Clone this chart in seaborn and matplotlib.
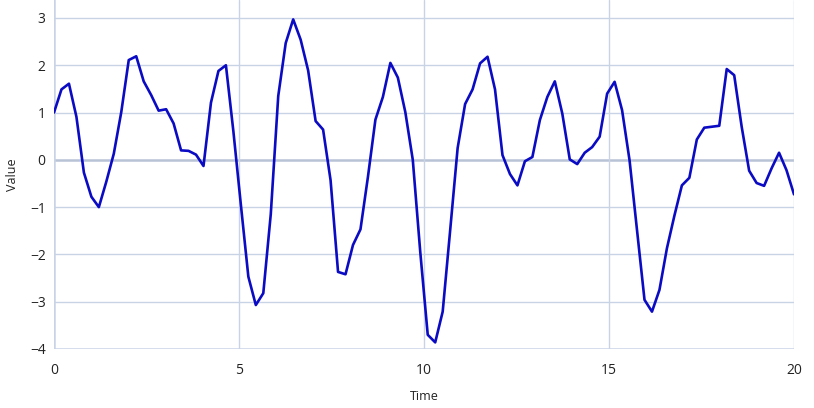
import numpy as np
import pandas as pd
import matplotlib
matplotlib.use("Agg")
import matplotlib.pyplot as plt
import seaborn as sns

time = np.linspace(0, 20, 100)
values = [
    1.00, 1.49, 1.61, 0.91, -0.27, -0.78, -1.00, -0.46, 0.13, 1.01,
    2.11, 2.19, 1.66, 1.37, 1.04, 1.07, 0.77, 0.20, 0.19, 0.11,
    -0.13, 1.21, 1.88, 2.00, 0.60, -0.95, -2.47, -3.07, -2.82, -1.15,
    1.35, 2.47, 2.97, 2.54, 1.89, 0.82, 0.64, -0.43, -2.37, -2.42,
    -1.80, -1.47, -0.36, 0.85, 1.33, 2.05, 1.74, 1.01, 0.00, -1.95,
    -3.70, -3.86, -3.21, -1.49, 0.25, 1.18, 1.49, 2.04, 2.18, 1.49,
    0.10, -0.30, -0.54, -0.03, 0.06, 0.84, 1.33, 1.66, 0.98, 0.01,
    -0.09, 0.15, 0.27, 0.49, 1.40, 1.65, 1.05, -0.01, -1.49, -2.96,
    -3.21, -2.75, -1.87, -1.18, -0.54, -0.38, 0.43, 0.68, 0.70, 0.72,
    1.92, 1.79, 0.70, -0.23, -0.49, -0.55, -0.18, 0.15, -0.22, -0.73,
]
x_ticks = [0, 5, 10, 15, 20]
y_ticks = [-4, -3, -2, -1, 0, 1, 2, 3]

df = pd.DataFrame({"Time": time, "Value": values})

sns.set_theme(style="white")
plt.rcParams["font.family"] = ["Open Sans", "DejaVu Sans"]

fig = plt.figure(figsize=(8.14, 4.08), dpi=100)
ax = fig.add_axes([54 / 814, 1 - 349 / 408, 740 / 814, 349 / 408])

grid_c = "#c9d3e6"
for yv in y_ticks:
    ax.axhline(yv, color="#b8c3d6" if yv == 0 else grid_c,
               lw=1.8 if yv in (0, -4) else 1.0, zorder=0)
for xv in x_ticks:
    ax.axvline(xv, color=grid_c, lw=1.8 if xv == 0 else 1.0, zorder=0)

sns.lineplot(data=df, x="Time", y="Value", ax=ax, color="#0b0bc4", lw=1.9)

ax.set_xlim(0, 20)
ax.set_ylim(-4.0, 3.38)
ax.set_xticks(x_ticks)
ax.set_yticks(y_ticks)
ax.set_yticklabels(["\u2212" + str(-v) if v < 0 else str(v) for v in y_ticks])
for s in ax.spines.values():
    s.set_visible(False)
ax.tick_params(axis="x", length=6, color=grid_c, width=1, pad=4,
               labelsize=10, labelcolor="#222222")
ax.tick_params(axis="y", length=0, pad=6, labelsize=10, labelcolor="#222222")
ax.set_xlabel("Time", fontsize=9, color="#222222", labelpad=9)
ax.set_ylabel("Value", fontsize=9, color="#222222", labelpad=8)

fig.savefig("out.png", dpi=100)
